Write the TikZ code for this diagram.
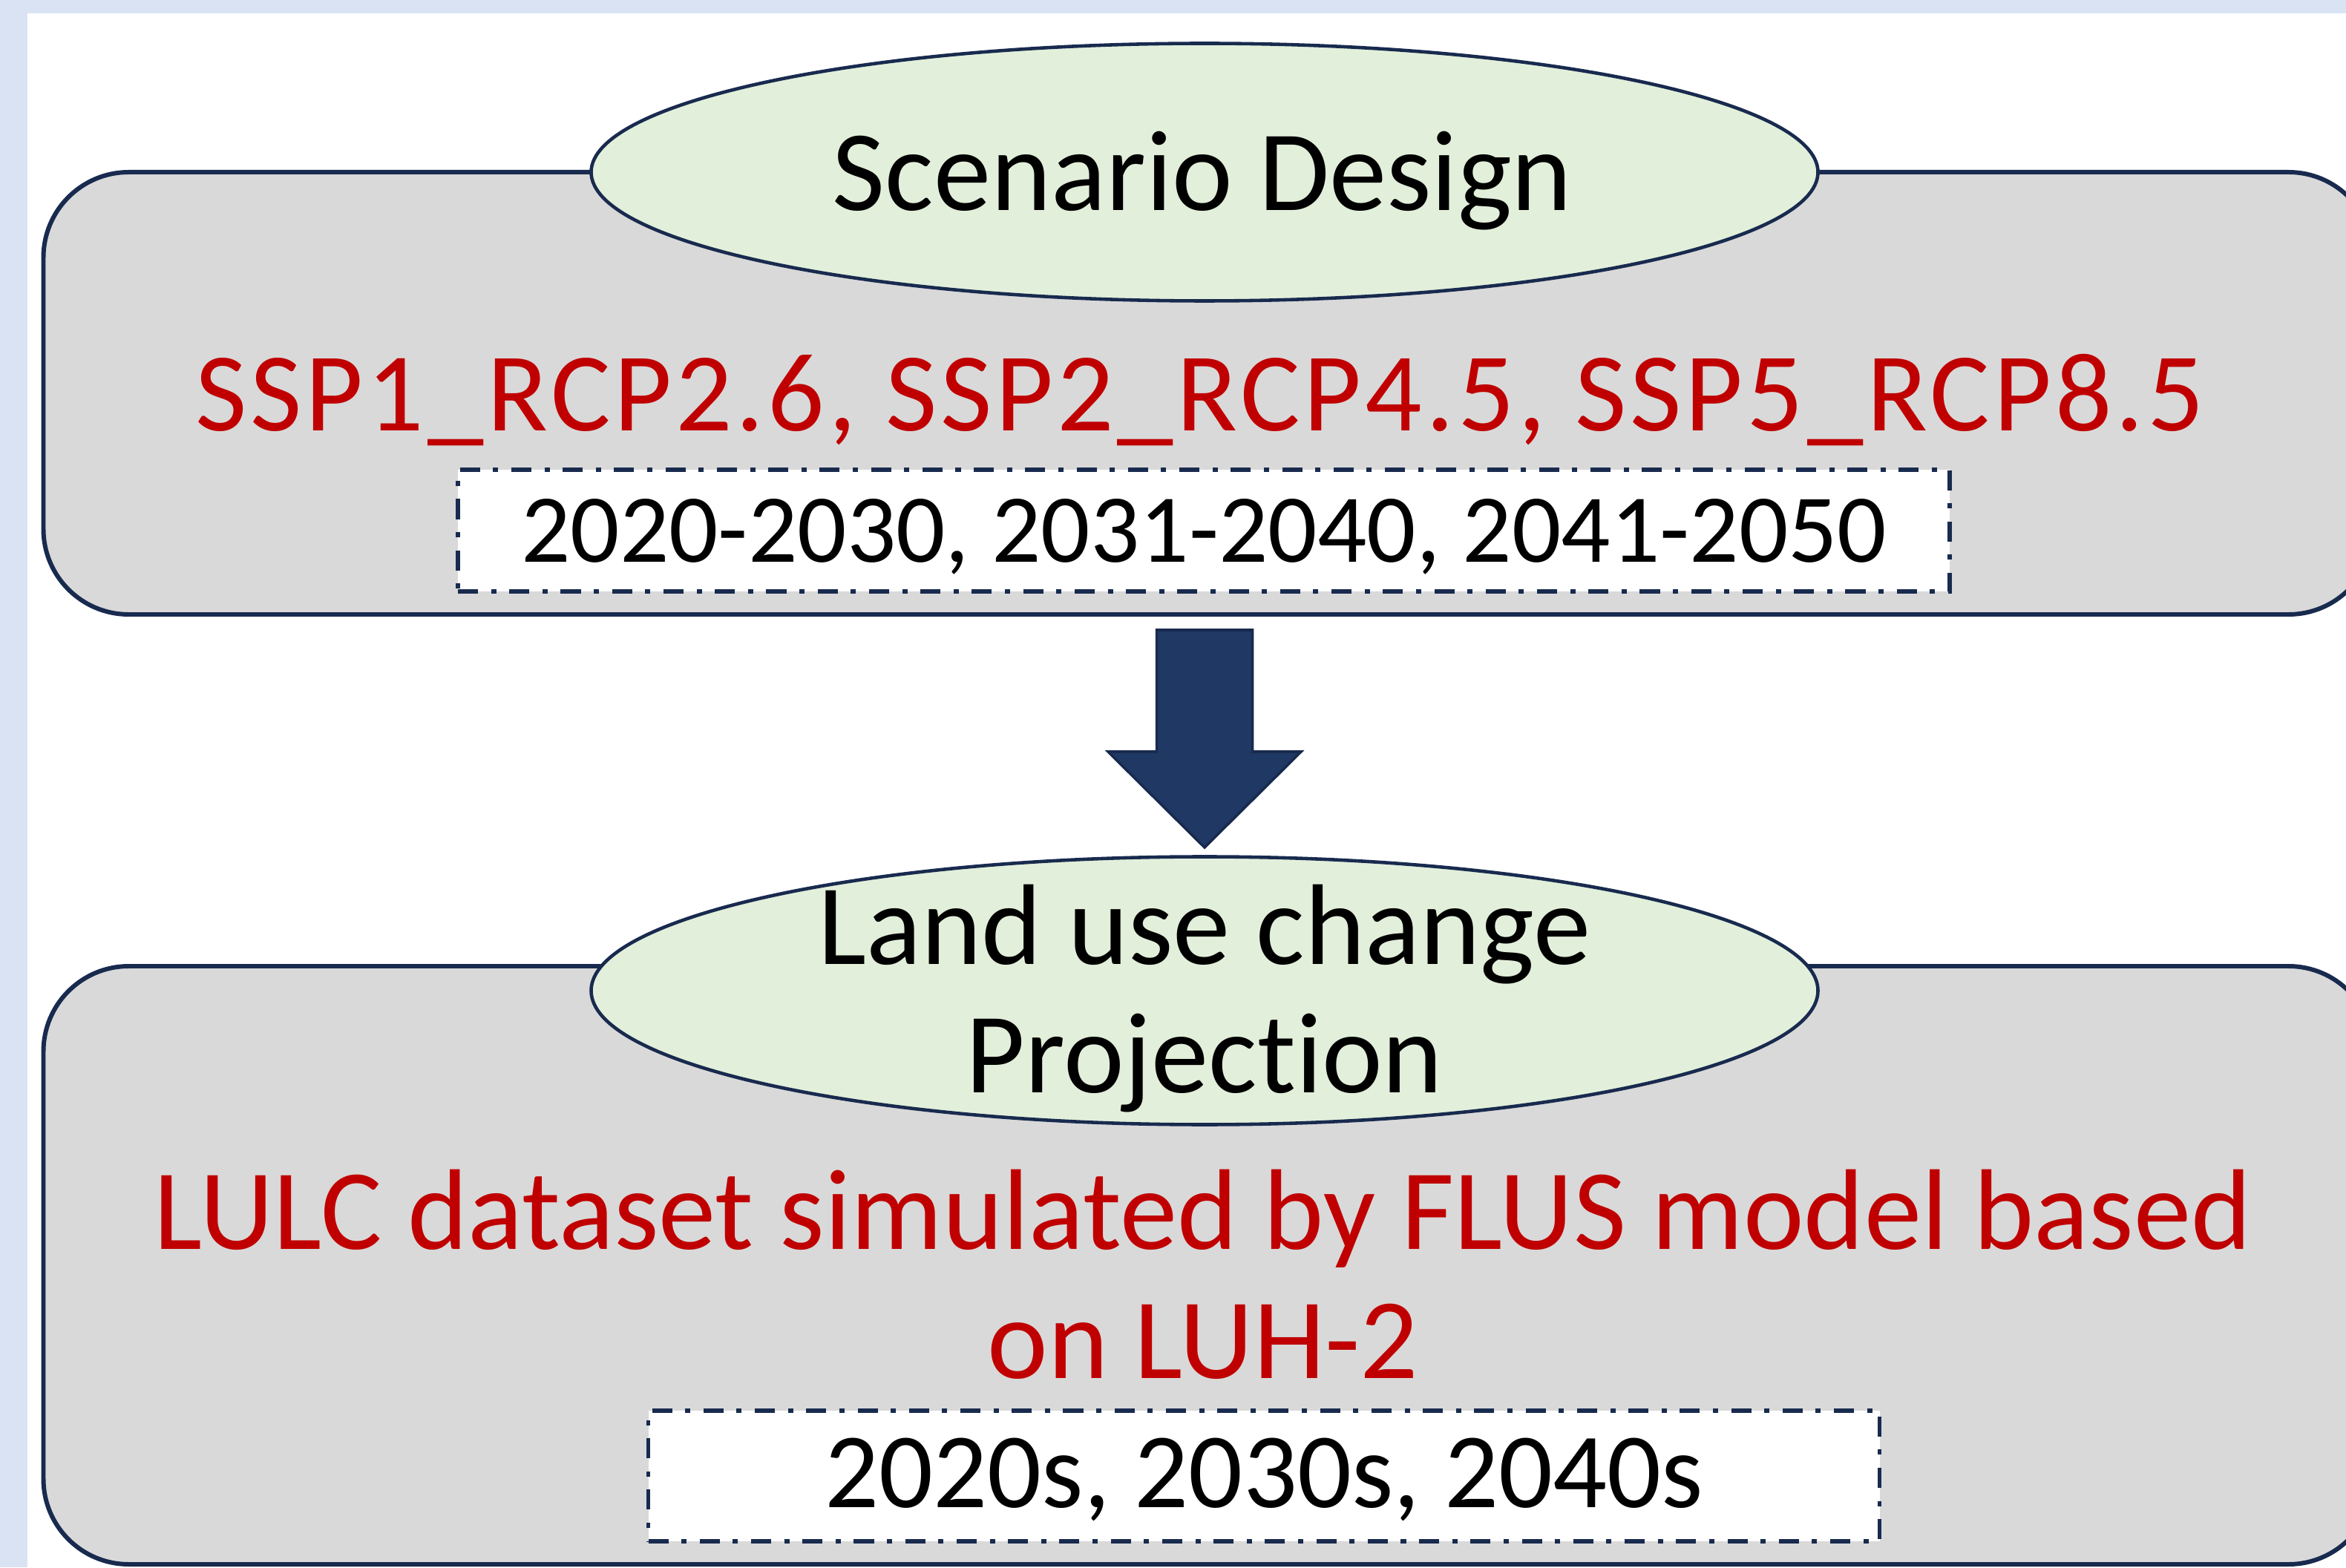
\documentclass[tikz,border=0pt]{standalone}
\usepackage{fontspec}
\setmainfont{Carlito}[Ligatures=NoCommon]
\newfontfamily\widefont{Carlito}[LetterSpace=3.2,Ligatures=NoCommon]
\usetikzlibrary{shapes.geometric,positioning,calc}
\definecolor{frameblue}{RGB}{218,227,243}
\definecolor{boxgray}{RGB}{217,217,217}
\definecolor{edgenavy}{RGB}{24,42,78}
\definecolor{arrownavy}{RGB}{32,56,100}
\definecolor{ovalgreen}{RGB}{226,239,218}
\definecolor{sspred}{RGB}{192,0,0}

\begin{document}
\begin{tikzpicture}[
    stage/.style={rectangle, draw=edgenavy, fill=boxgray, line width=1.7pt, rounded corners=1.15cm, minimum width=31.4cm},
    oval/.style={ellipse, draw=edgenavy, fill=ovalgreen, line width=1.3pt, minimum width=16.53cm, inner sep=0pt},
    ovaltext/.style={align=center, anchor=base, font=\fontsize{44}{49}\selectfont},
    period/.style={rectangle, draw=edgenavy, fill=white, line width=1.5pt, dash pattern=on 7.7pt off 5pt on 2pt off 5pt, text height=1.0cm, text depth=0.15cm},
    redtext/.style={text=sspred, align=center},
    bigarrow/.style={draw=edgenavy, fill=arrownavy, line width=1pt}
]
    \clip (0,0) rectangle (31.61,21.12);
    \fill[frameblue] (0,0) rectangle (31.61,21.12);
    \fill[white] (0.37,0) rectangle (31.61,20.94);

    % upper stage
    \node[stage, minimum height=5.96cm] (scen) at (16.285,15.82) {};
    \node[oval, minimum height=3.47cm] (design) at (16.23,18.80) {};
    \node[ovaltext] (designtext) at (16.20,18.28) {Scenario Design};
    \node[redtext, anchor=base, font=\widefont\fontsize{43}{49}\selectfont] (ssp) at (16.17,15.31) {SSP1\_RCP2.6, SSP2\_RCP4.5, SSP5\_RCP8.5};
    \node[period, minimum width=20.1cm, minimum height=1.64cm, font=\fontsize{37.3}{44}\selectfont] (spans) at (16.22,13.97) {2020-2030, 2031-2040, 2041-2050};

    % lower stage
    \node[stage, minimum height=8.06cm] (lulc) at (16.285,4.07) {};
    \node[oval, minimum height=3.61cm] (proj) at (16.23,7.77) {};
    \node[ovaltext] (projtext) at (16.23,6.40) {Land use change\\Projection};
    \node[redtext, anchor=base, font=\fontsize{44}{49.3}\selectfont] (flus) at (16.21,2.55) {LULC dataset simulated by FLUS model based\\on LUH-2};
    \node[period, minimum width=16.59cm, minimum height=1.76cm, font=\fontsize{41}{46}\selectfont] (decades) at (17.03,1.23) {2020s, 2030s, 2040s};

    % block arrow between the stages
    \coordinate (flowtop) at (16.23,12.63);
    \coordinate (flowtip) at (16.23,9.70);
    \draw[bigarrow] ($(flowtop)+(-0.645,0)$) -- ($(flowtop)+(0.645,0)$) -- ($(flowtip)+(0.645,1.29)$)
        -- ($(flowtip)+(1.30,1.29)$) -- (flowtip) -- ($(flowtip)+(-1.30,1.29)$) -- ($(flowtip)+(-0.645,1.29)$) -- cycle;
\end{tikzpicture}
\end{document}
